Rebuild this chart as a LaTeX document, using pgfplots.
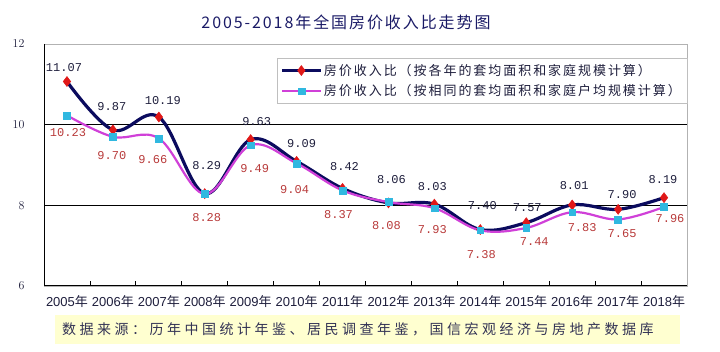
\documentclass[border=0pt]{standalone}
\usepackage{pgfplots}
\pgfplotsset{compat=1.18}
\usepackage{pgfplotstable}
\usepackage{fontspec}
\setmainfont{Liberation Serif}
\newfontfamily\sansf{Liberation Sans}
\newfontfamily\cjk{Noto Sans CJK SC}
\newfontfamily\cjkleg[LetterSpace=15]{Noto Sans CJK SC}
\newfontfamily\cjksrc[LetterSpace=25]{Noto Sans CJK SC}
\newfontfamily\cjktitle[LetterSpace=12]{Noto Sans CJK SC}
\newfontfamily\monof{Liberation Mono}
\definecolor{navyline}{HTML}{0B0B5E}
\definecolor{reddia}{HTML}{E01818}
\definecolor{magline}{HTML}{D040D8}
\definecolor{cyansq}{HTML}{30B8E0}
\definecolor{redlab}{HTML}{B83A3A}
\definecolor{darklab}{HTML}{1E1E3C}
\definecolor{titlec}{HTML}{1A1A66}
\definecolor{srcbg}{HTML}{FFFFD0}
\definecolor{srctext}{HTML}{333355}

\pgfplotstableread{
x y lab dx dy
0 11.07 11.07 -3 14
1 9.87 9.87 -1 23
2 10.19 10.19 4 16
3 8.29 8.29 2 28
4 9.63 9.63 6 18
5 9.09 9.09 5 18
6 8.42 8.42 2 22
7 8.06 8.06 3 23
8 8.03 8.03 -2 18
9 7.40 7.40 2 24
10 7.57 7.57 1 15
11 8.01 8.01 2 19
12 7.90 7.90 4 15
13 8.19 8.19 -1 18
}\seriesA

\pgfplotstableread{
x y lab dx dy
0 10.23 10.23 1 -17
1 9.70 9.70 -1 -19
2 9.66 9.66 -6 -21
3 8.28 8.28 2 -24
4 9.49 9.49 4 -23
5 9.04 9.04 -2 -26
6 8.37 8.37 -4 -24
7 8.08 8.08 -2 -23
8 7.93 7.93 -2 -21
9 7.38 7.38 1 -24
10 7.44 7.44 8 -14
11 7.83 7.83 10 -15
12 7.65 7.65 4 -14
13 7.96 7.96 6 -12
}\seriesB

\begin{document}
\begin{tikzpicture}
\path[use as bounding box] (0pt,0pt) rectangle (720pt,352pt);
\node[font=\cjktitle\fontsize{16}{16}\selectfont, text=titlec] at (346pt,330pt) {2005-2018年全国房价收入比走势图};
\fill[srcbg] (55pt,8pt) rectangle (680pt,37pt);
\node[anchor=west, font=\cjksrc\fontsize{14}{14}\selectfont, text=srctext, inner sep=0pt] at (62pt,23pt) {数据来源：历年中国统计年鉴、居民调查年鉴，国信宏观经济与房地产数据库};
\begin{axis}[
  at={(44pt,66pt)}, anchor=south west,
  scale only axis, width=643pt, height=242pt,
  xmin=-0.5, xmax=13.5, ymin=6, ymax=12,
  xtick={0,...,13},
  xticklabels={2005{\cjk 年},2006{\cjk 年},2007{\cjk 年},2008{\cjk 年},2009{\cjk 年},2010{\cjk 年},2011{\cjk 年},2012{\cjk 年},2013{\cjk 年},2014{\cjk 年},2015{\cjk 年},2016{\cjk 年},2017{\cjk 年},2018{\cjk 年}},
  minor xtick={0.5,1.5,...,12.5},
  major tick length=0pt,
  minor tick length=5pt,
  tick align=inside,
  xtick pos=left, ytick pos=left,
  minor tick style={black, line width=0.8pt},
  ytick={6,8,10,12},
  extra y ticks={8,10},
  extra y tick labels={},
  extra y tick style={grid=major, major grid style={black, line width=0.9pt}},
  axis line style={gray!60, line width=0.8pt},
  xticklabel style={font=\sansf\fontsize{13}{13}\selectfont, text=darklab, yshift=-6pt},
  yticklabel style={font=\fontsize{13}{13}\selectfont, text=darklab, anchor=east, xshift=-16pt},
  legend style={at={(1,0.942)}, anchor=north east, draw=gray!50, fill=white,
    font=\cjkleg\fontsize{13}{15}\selectfont, text=darklab, row sep=4pt,
    inner xsep=4pt, inner ysep=4pt},
  legend cell align=left,
  legend image code/.code={\draw[mark repeat=2,mark phase=2,#1] plot coordinates {(0pt,0pt) (19pt,0pt) (38pt,0pt)};},
  point meta=explicit symbolic,
  visualization depends on={\thisrow{dx}\as\mydx},
  visualization depends on={\thisrow{dy}\as\mydy},
]
\addplot[navyline, line width=3.2pt, smooth, tension=0.6,
  mark=diamond*, mark size=5pt, mark options={draw=reddia, fill=reddia, line width=0.5pt},
  nodes near coords,
  nodes near coords style={anchor=center, xshift=\mydx pt, yshift=\mydy pt, font=\monof\fontsize{12}{12}\selectfont, text=darklab}]
  table[x=x, y=y, meta=lab] {\seriesA};
\addlegendentry{房价收入比（按各年的套均面积和家庭规模计算）}
\addplot[magline, line width=2.2pt, smooth, tension=0.6,
  mark=square*, mark size=3.4pt, mark options={draw=cyansq, fill=cyansq, line width=0.5pt},
  nodes near coords,
  nodes near coords style={anchor=center, xshift=\mydx pt, yshift=\mydy pt, font=\monof\fontsize{12}{12}\selectfont, text=redlab}]
  table[x=x, y=y, meta=lab] {\seriesB};
\addlegendentry{房价收入比（按相同的套均面积和家庭户均规模计算）}
\draw[black, line width=1.2pt] (rel axis cs:0,1) -- (rel axis cs:0,0) -- (rel axis cs:1,0);
\end{axis}
\end{tikzpicture}
\end{document}
